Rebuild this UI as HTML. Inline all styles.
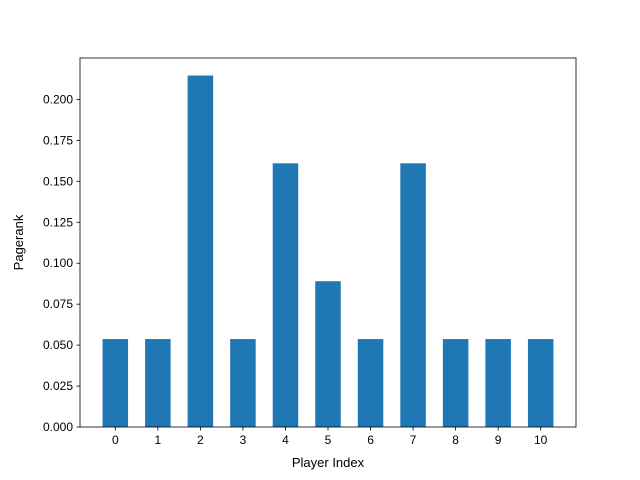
<!DOCTYPE html>
<html><head><meta charset="utf-8"><style>body{margin:0;background:#fff}svg{display:block;font-family:"Liberation Sans","DejaVu Sans",sans-serif}</style></head>
<body>
<svg id="chart" width="640" height="480" viewBox="0 0 640 480"></svg>
<script>
const categories=[0,1,2,3,4,5,6,7,8,9,10];
const pagerankValues=[0.0537,0.0537,0.2146,0.0537,0.161,0.089,0.0537,0.161,0.0537,0.0537,0.0537];
const yTicks=[0,0.025,0.05,0.075,0.1,0.125,0.15,0.175,0.2];
const yTickLabels=["0.000","0.025","0.050","0.075","0.100","0.125","0.150","0.175","0.200"];
const L=80,R=576,T=58,B=427,xmin=-0.83,xmax=10.83,ymax=0.2253;
const sx=v=>L+(v-xmin)/(xmax-xmin)*(R-L);
const sy=v=>B-v/ymax*(B-T);
const svg=document.getElementById('chart');
const NS='http://www.w3.org/2000/svg';
function mk(t,a,p){const e=document.createElementNS(NS,t);for(const k in a)e.setAttribute(k,a[k]);(p||svg).appendChild(e);return e;}
categories.forEach((c,i)=>{
  const r=mk('rect',{x:sx(c-0.3),y:sy(pagerankValues[i]),width:sx(c+0.3)-sx(c-0.3),height:sy(0)-sy(pagerankValues[i]),fill:'#1f77b4'});
  
  
  mk('line',{x1:sx(c),x2:sx(c),y1:B,y2:B+3.5,stroke:'#000','stroke-width':0.8});
  const t=mk('text',{x:sx(c),y:B+17,'font-size':12,'text-anchor':'middle'});t.textContent=c;
  
  
});
yTicks.forEach((v,i)=>{
  mk('line',{x1:L-3.5,x2:L,y1:sy(v),y2:sy(v),stroke:'#000','stroke-width':0.8});
  const t=mk('text',{x:L-7,y:sy(v)+4,'font-size':12,'text-anchor':'end'});t.textContent=yTickLabels[i];
  
  
});
const f=mk('rect',{x:L,y:T,width:R-L,height:B-T,fill:'none',stroke:'#000','stroke-width':0.8});


const xt=mk('text',{x:(L+R)/2,y:467,'font-size':13,'text-anchor':'middle'});xt.textContent='Player Index';


const yt=mk('text',{x:23,y:(T+B)/2,'font-size':13,'text-anchor':'middle',transform:'rotate(-90 23 '+((T+B)/2)+')'});yt.textContent='Pagerank';


</script>
</body></html>
